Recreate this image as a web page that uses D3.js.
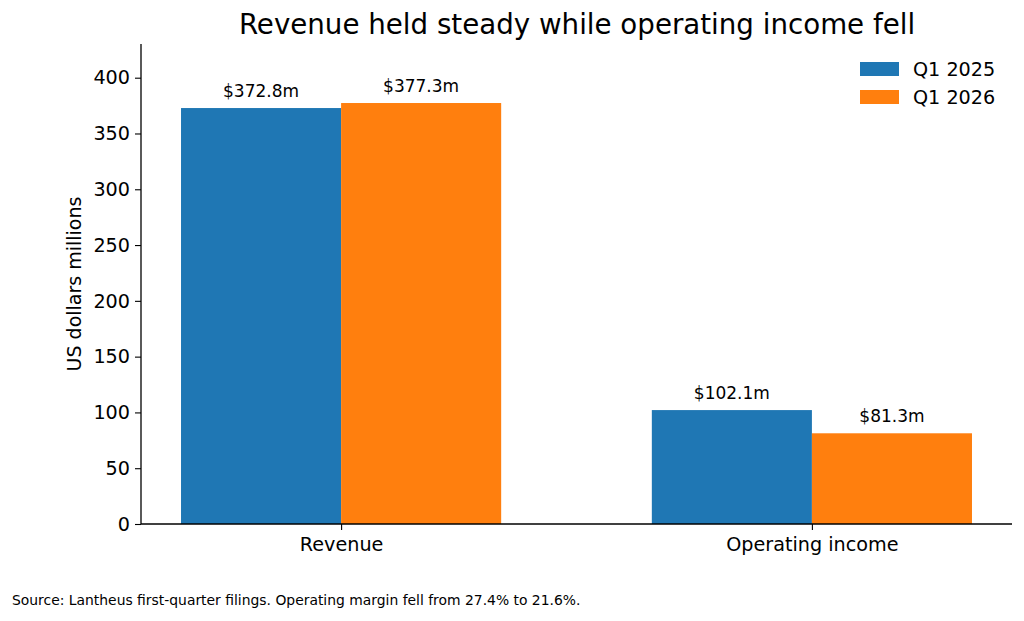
<!DOCTYPE html>
<html>
<head>
<meta charset="utf-8">
<script src="https://cdn.jsdelivr.net/npm/d3@7"></script>
<style>
  body { margin: 0; background: #fff; }
  svg text { font-family: "DejaVu Sans", sans-serif; fill: #000; }
</style>
</head>
<body>
<svg id="chart" width="1024" height="621"></svg>
<script>
const categories = ["Revenue", "Operating income"];
const seriesNames = ["Q1 2025", "Q1 2026"];
const q1_2025 = [372.8, 102.1];
const q1_2026 = [377.3, 81.3];
const yTicks = [0, 50, 100, 150, 200, 250, 300, 350, 400];
const colors = ["#1f77b4", "#ff7f0e"];

const svg = d3.select("#chart");
const margin = { left: 141, right: 12, top: 44, bottom: 97 };
const width = 1024 - margin.left - margin.right;
const height = 621 - margin.top - margin.bottom;

// linear x in category units, like matplotlib's xlim
const x = d3.scaleLinear().domain([-0.425, 1.425]).range([0, width]);
const y = d3.scaleLinear().domain([0, 430.2]).range([height, 0]);
const barW = 0.34;

const g = svg.append("g").attr("transform", `translate(${margin.left},${margin.top})`);

const series = [q1_2025, q1_2026];
series.forEach((vals, s) => {
  const offset = s === 0 ? -barW / 2 : barW / 2;
  g.selectAll(".bar" + s)
    .data(vals)
    .enter().append("rect")
      .attr("x", (d, i) => x(i + offset - barW / 2))
      .attr("width", x(barW) - x(0))
      .attr("y", d => y(d))
      .attr("height", d => y(0) - y(d))
      .style("fill", colors[s]);
  g.selectAll(".lab" + s)
    .data(vals)
    .enter().append("text")
      .attr("x", (d, i) => x(i + offset))
      .attr("y", d => y(d) - 11)
      .attr("text-anchor", "middle")
      .style("font-size", "17px")
      .text(d => "$" + d.toFixed(1) + "m");
});

const yAxis = g.append("g")
  .call(d3.axisLeft(y).tickValues(yTicks).tickSize(6).tickPadding(5));
const xAxis = g.append("g")
  .attr("transform", `translate(0,${height})`)
  .call(d3.axisBottom(x).tickValues([0, 1]).tickFormat(i => categories[i]).tickSize(6).tickPadding(7));

[yAxis, xAxis].forEach(a => {
  a.select(".domain").attr("stroke", "#000").attr("stroke-width", 1.3);
  a.selectAll(".tick line").attr("stroke", "#000").attr("stroke-width", 1.1);
  a.selectAll(".tick text").style("font-size", "19.2px").attr("fill", "#000");
});
yAxis.select(".domain").attr("d", `M0,${height}V0`);
xAxis.select(".domain").attr("d", `M0,0H${width}`);

svg.append("text")
  .attr("transform", `translate(81,${margin.top + height / 2}) rotate(-90)`)
  .attr("text-anchor", "middle")
  .style("font-size", "19px")
  .text("US dollars millions");

svg.append("text")
  .attr("x", 577).attr("y", 34)
  .attr("text-anchor", "middle")
  .style("font-size", "27.7px")
  .text("Revenue held steady while operating income fell");

svg.append("text")
  .attr("x", 12).attr("y", 605)
  .style("font-size", "13.9px")
  .text("Source: Lantheus first-quarter filings. Operating margin fell from 27.4% to 21.6%.");

const legend = svg.append("g").attr("transform", "translate(860,62)");
seriesNames.forEach((name, i) => {
  legend.append("rect")
    .attr("x", 0).attr("y", i * 28)
    .attr("width", 39).attr("height", 14)
    .style("fill", colors[i]);
  legend.append("text")
    .attr("x", 53).attr("y", i * 28 + 14)
    .style("font-size", "19.2px")
    .text(name);
});
</script>
</body>
</html>
